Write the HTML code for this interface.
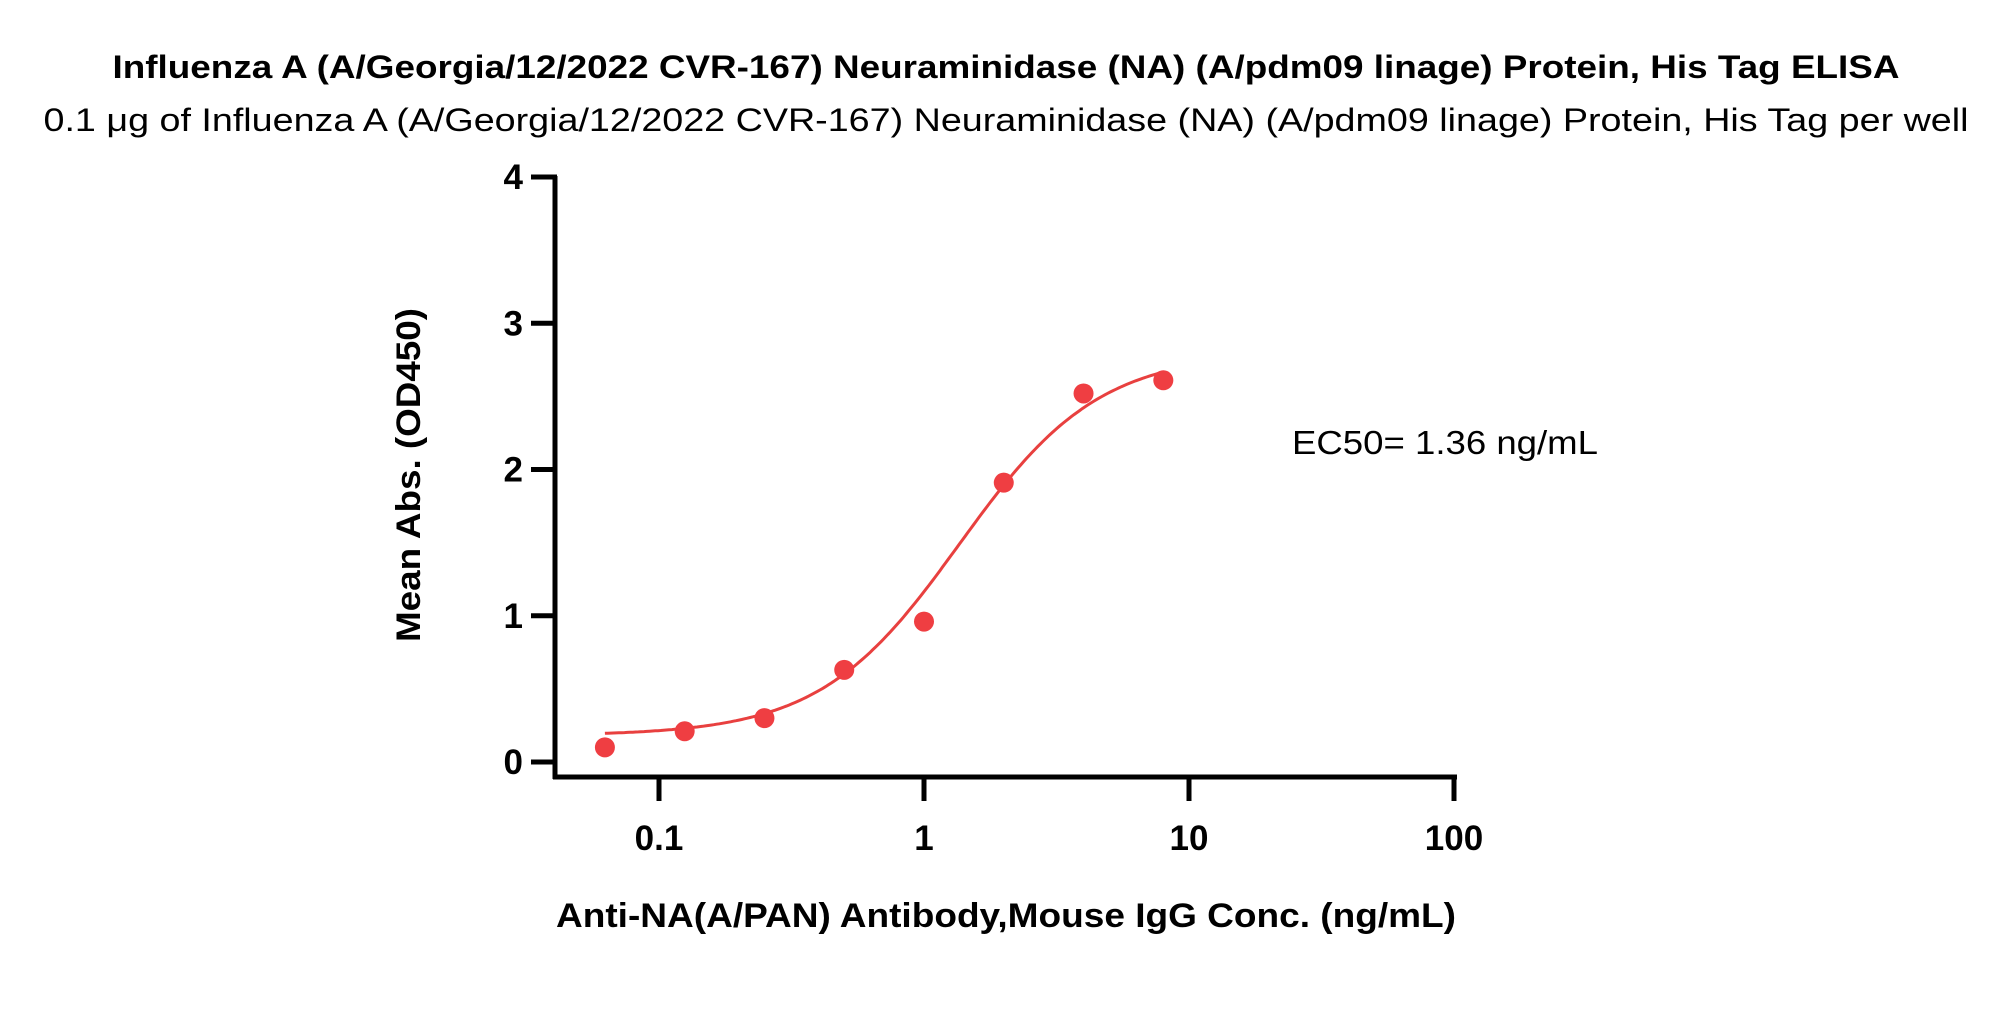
<!DOCTYPE html>
<html><head><meta charset="utf-8"><style>
html,body{margin:0;padding:0;background:#fff;}
svg{display:block;font-family:"Liberation Sans",sans-serif;}
</style></head><body>
<svg id="chart" width="2013" height="1032" viewBox="0 0 2013 1032">
<text x="1006" y="78" text-anchor="middle" font-size="32" font-weight="bold" textLength="1787" lengthAdjust="spacingAndGlyphs">Influenza A (A/Georgia/12/2022 CVR-167) Neuraminidase (NA) (A/pdm09 linage) Protein, His Tag ELISA</text>
<text x="1006" y="131" text-anchor="middle" font-size="32" textLength="1925" lengthAdjust="spacingAndGlyphs">0.1 μg of Influenza A (A/Georgia/12/2022 CVR-167) Neuraminidase (NA) (A/pdm09 linage) Protein, His Tag per well</text>
<text transform="translate(420,475) rotate(-90)" text-anchor="middle" font-size="34" font-weight="bold" textLength="334" lengthAdjust="spacingAndGlyphs">Mean Abs. (OD450)</text>
<text x="1006" y="927" text-anchor="middle" font-size="34" font-weight="bold" textLength="900" lengthAdjust="spacingAndGlyphs">Anti-NA(A/PAN) Antibody,Mouse IgG Conc. (ng/mL)</text>
<text x="1292" y="454" font-size="33" textLength="306" lengthAdjust="spacingAndGlyphs">EC50= 1.36 ng/mL</text>
<g id="axes"></g><g id="marks"></g>
</svg>
<script>
const concentrations=[0.0625,0.125,0.25,0.5,1,2,4,8];
const absorbances=[0.10,0.21,0.30,0.63,0.96,1.91,2.52,2.61];
const yTicks=[0,1,2,3,4];
const xTicks=[0.1,1,10,100];
const xTickLabels=["0.1","1","10","100"];
const fitBottom=0.18, fitTop=2.8, fitEC50=1.36, fitHill=1.65;
const NS="http://www.w3.org/2000/svg";
function X(v){return 924+265*Math.log10(v);}
function Y(v){return 762-146.25*v;}
function mk(t,a,p){const e=document.createElementNS(NS,t);for(const k in a)e.setAttribute(k,a[k]);p.appendChild(e);return e;}
const axes=document.getElementById('axes'),marks=document.getElementById('marks');
let e=mk('line',{x1:555,y1:176,x2:555,y2:779,stroke:'#000','stroke-width':5},axes);


e=mk('line',{x1:553,y1:777,x2:1457,y2:777,stroke:'#000','stroke-width':5},axes);


yTicks.forEach(v=>{
 const t=mk('line',{x1:531,y1:Y(v),x2:557,y2:Y(v),stroke:'#000','stroke-width':5},axes);
 
 
 const l=mk('text',{x:523,y:Y(v)+12,'text-anchor':'end','font-size':35,'font-weight':'bold'},axes);
 l.textContent=String(v);
 
 
});
xTicks.forEach((v,i)=>{
 const t=mk('line',{x1:X(v),y1:775,x2:X(v),y2:801,stroke:'#000','stroke-width':5},axes);
 
 
 const l=mk('text',{x:X(v),y:850,'text-anchor':'middle','font-size':35,'font-weight':'bold'},axes);
 l.textContent=xTickLabels[i];
 
 
});
let d='';
const lo=Math.log10(concentrations[0]),hi=Math.log10(concentrations[concentrations.length-1]);
for(let i=0;i<=200;i++){const lx=lo+(hi-lo)*i/200,c=Math.pow(10,lx);
 const y=fitBottom+(fitTop-fitBottom)/(1+Math.pow(fitEC50/c,fitHill));
 d+=(i?'L':'M')+X(c).toFixed(1)+' '+Y(y).toFixed(1);}
e=mk('path',{d:d,fill:'none',stroke:'#e8403f','stroke-width':3},marks);


concentrations.forEach((c,i)=>{
 const p=mk('circle',{cx:X(c),cy:Y(absorbances[i]),r:10,fill:'#ef3e42'},marks);
 
 
});
</script>
</body></html>
